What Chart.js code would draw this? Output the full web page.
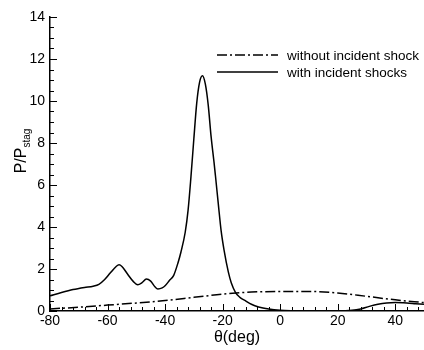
<!DOCTYPE html>
<html>
<head>
<meta charset="utf-8">
<script src="https://cdn.jsdelivr.net/npm/chart.js@4.4.0/dist/chart.umd.min.js"></script>
<style>
  html, body { margin: 0; padding: 0; background: #fff; }
  #wrap { width: 424px; height: 350px; }
</style>
</head>
<body>
<div id="wrap"><canvas id="cpChart" width="424" height="350"></canvas></div>
<script>
// surface pressure ratio vs angle
const shockTheta = [-80, -76, -72, -68, -65, -63, -61, -59, -57, -56, -55, -53, -51, -49.5, -48, -46.5, -45, -43.5, -42.5, -41, -40,
  -38.5, -37, -35.5, -34.5, -33, -32, -31, -30, -29, -28, -27, -26, -25, -24, -23, -22.5, -21.5, -20.5, -19.5, -18, -17,
  -15.5, -14, -12, -10, -7.5, -4, 0, 5, 10, 15, 20, 25, 28, 31, 34, 37, 40, 44, 47, 50];
const shockP = [0.72, 0.88, 1.02, 1.12, 1.18, 1.27, 1.5, 1.82, 2.12, 2.2, 2.12, 1.75, 1.4, 1.25, 1.35, 1.52, 1.42, 1.15, 1.05, 1.1, 1.2,
  1.45, 1.7, 2.3, 2.8, 3.75, 4.8, 6.4, 8.2, 9.9, 10.9, 11.2, 10.8, 9.8, 8.3, 7.1, 6.45, 5.1, 3.8, 2.9, 1.85, 1.35,
  0.88, 0.65, 0.48, 0.32, 0.19, 0.09, 0.03, 0.01, 0, 0, 0, 0.03, 0.1, 0.22, 0.32, 0.38, 0.4, 0.38, 0.35, 0.32];

const noShockTheta = [-80, -70, -60, -50, -40, -30, -20, -10, 0, 10, 20, 30, 40, 50];
const noShockP = [0.1, 0.18, 0.28, 0.38, 0.5, 0.65, 0.8, 0.9, 0.93, 0.93, 0.86, 0.7, 0.53, 0.4];

const seriesLabels = ['without incident shock', 'with incident shocks'];
const xTicks = [-80, -60, -40, -20, 0, 20, 40];
const yTicks = [0, 2, 4, 6, 8, 10, 12, 14];

const toPoints = (xs, ys) => xs.map((x, i) => ({ x: x, y: ys[i] }));

// inward major/minor ticks, legend and axis titles (tecplot look)
const decor = {
  id: 'decor',
  afterDraw(chart) {
    const ctx = chart.ctx;
    const xs = chart.scales.x, ys = chart.scales.y;
    const left = chart.chartArea.left, bottom = chart.chartArea.bottom;
    ctx.save();
    ctx.strokeStyle = '#000';
    ctx.lineWidth = 1;
    for (let v = 0; v <= 14.001; v += 0.5) {
      const py = Math.round(ys.getPixelForValue(v)) + 0.5;
      const len = (Math.abs(v % 2) < 0.01) ? 7 : 4;
      ctx.beginPath(); ctx.moveTo(left, py); ctx.lineTo(left + len, py); ctx.stroke();
    }
    for (let v = -80; v <= 50; v += 4) {
      const px = Math.round(xs.getPixelForValue(v)) + 0.5;
      const len = (v % 20 === 0) ? 7 : 4;
      ctx.beginPath(); ctx.moveTo(px, bottom); ctx.lineTo(px, bottom - len); ctx.stroke();
    }

    // legend
    ctx.font = '13.5px "Liberation Sans", Arial, sans-serif';
    ctx.textBaseline = 'middle';
    ctx.fillStyle = '#000';
    chart.data.datasets.forEach((ds, row) => {
      const y = 55 + row * 17;
      ctx.lineWidth = 1.5;
      ctx.setLineDash(ds.borderDash || []);
      ctx.beginPath(); ctx.moveTo(217, y); ctx.lineTo(278, y); ctx.stroke();
      ctx.setLineDash([]);
      ctx.fillText(ds.label, 287, y + 1);
    });

    // x title
    ctx.font = '16px "Liberation Sans", Arial, sans-serif';
    ctx.textAlign = 'center';
    ctx.textBaseline = 'alphabetic';
    ctx.fillText('θ(deg)', 237, 342);

    // y title with subscript
    ctx.translate(26, 151);
    ctx.rotate(-Math.PI / 2);
    ctx.textAlign = 'left';
    ctx.font = '16px "Liberation Sans", Arial, sans-serif';
    const main = 'P/P';
    const w1 = ctx.measureText(main).width;
    ctx.font = '10px "Liberation Sans", Arial, sans-serif';
    const w2 = ctx.measureText('stag').width;
    const x0 = -(w1 + w2) / 2;
    ctx.font = '16px "Liberation Sans", Arial, sans-serif';
    ctx.fillText(main, x0, 0);
    ctx.font = '10px "Liberation Sans", Arial, sans-serif';
    ctx.fillText('stag', x0 + w1, 4);
    ctx.restore();
  }
};

new Chart(document.getElementById('cpChart'), {
  type: 'line',
  data: {
    datasets: [{
      label: seriesLabels[0],
      data: toPoints(noShockTheta, noShockP),
      borderColor: '#000',
      borderWidth: 1.5,
      borderDash: [10, 3, 2, 3],
      pointRadius: 0,
      fill: false,
      cubicInterpolationMode: 'monotone'
    }, {
      label: seriesLabels[1],
      data: toPoints(shockTheta, shockP),
      borderColor: '#000',
      borderWidth: 1.5,
      pointRadius: 0,
      fill: false,
      cubicInterpolationMode: 'monotone'
    }]
  },
  options: {
    responsive: false,
    animation: false,
    layout: { padding: { top: 17, right: 0, left: 0, bottom: 0 } },
    plugins: { legend: { display: false }, tooltip: { enabled: false } },
    scales: {
      x: {
        type: 'linear',
        min: -80, max: 50,
        afterBuildTicks: s => { s.ticks = xTicks.map(v => ({ value: v })); },
        afterFit: s => { s.height = 39; },
        grid: { display: false, drawTicks: false },
        border: { display: true, color: '#000', width: 1.5 },
        ticks: { color: '#000', padding: 2, maxRotation: 0, font: { family: '"Liberation Sans", Arial, sans-serif', size: 14 } }
      },
      y: {
        min: 0, max: 14,
        afterBuildTicks: s => { s.ticks = yTicks.map(v => ({ value: v })); },
        afterFit: s => { s.width = 50; },
        grid: { display: false, drawTicks: false },
        border: { display: true, color: '#000', width: 1.5 },
        ticks: { color: '#000', padding: 5, font: { family: '"Liberation Sans", Arial, sans-serif', size: 14 } }
      }
    }
  },
  plugins: [decor]
});
</script>
</body>
</html>
